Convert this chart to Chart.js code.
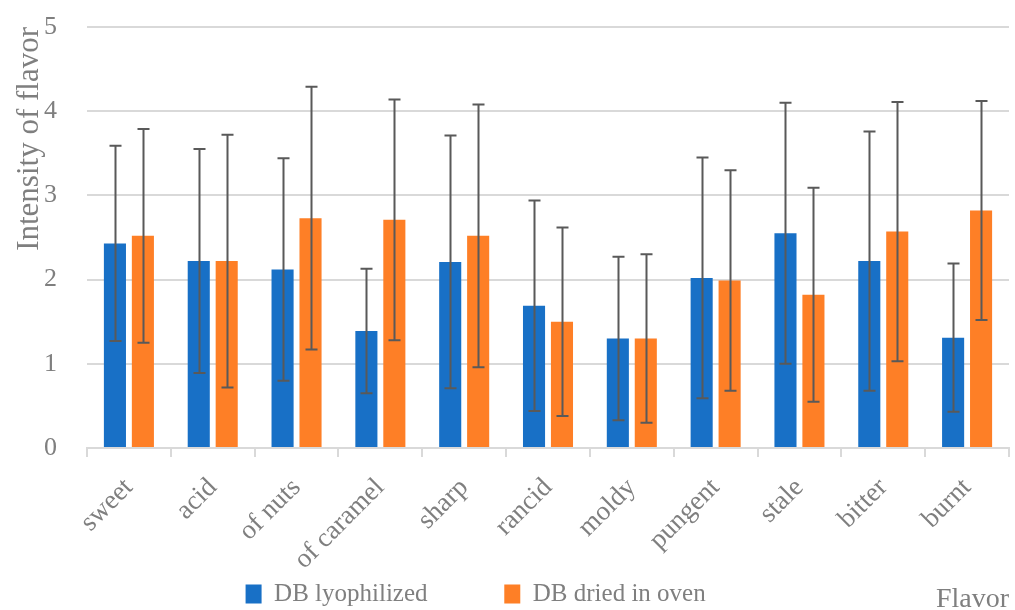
<!DOCTYPE html>
<html>
<head>
<meta charset="utf-8">
<script src="https://cdn.jsdelivr.net/npm/chart.js@4/dist/chart.umd.min.js"></script>
<style>
  html, body { margin: 0; padding: 0; background: #fff; }
</style>
</head>
<body>
<canvas id="flavorChart" width="1015" height="610"></canvas>
<script>
const flavors = ["sweet", "acid", "of nuts", "of caramel", "sharp", "rancid", "moldy", "pungent", "stale", "bitter", "burnt"];

const lyophilized   = [2.43, 2.22, 2.12, 1.39, 2.21, 1.69, 1.30, 2.02, 2.55, 2.22, 1.31];
const lyophilizedSd = [1.16, 1.33, 1.32, 0.74, 1.50, 1.25, 0.97, 1.43, 1.55, 1.54, 0.88];

const ovenDried   = [2.52, 2.22, 2.73, 2.71, 2.52, 1.50, 1.30, 1.99, 1.82, 2.57, 2.82];
const ovenDriedSd = [1.27, 1.50, 1.56, 1.43, 1.56, 1.12, 1.00, 1.31, 1.27, 1.54, 1.30];

const serif = "'Liberation Serif', 'DejaVu Serif', serif";
const gridColor = "#d9d9d9";
const textColor = "#7f7f7f";

// draws +/- sd whiskers on top of each bar, using the y scale
const errorBars = {
  id: "errorBars",
  afterDatasetsDraw(chart) {
    const ctx = chart.ctx;
    const y = chart.scales.y;
    ctx.save();
    ctx.strokeStyle = "#595959";
    ctx.lineWidth = 2;
    chart.data.datasets.forEach((ds, di) => {
      const meta = chart.getDatasetMeta(di);
      meta.data.forEach((bar, i) => {
        const top = y.getPixelForValue(ds.data[i] + ds.sd[i]);
        const bottom = y.getPixelForValue(ds.data[i] - ds.sd[i]);
        const x = Math.round(bar.x) + 0.5;
        ctx.beginPath();
        ctx.moveTo(x, top);
        ctx.lineTo(x, bottom);
        ctx.moveTo(x - 6, top);
        ctx.lineTo(x + 6, top);
        ctx.moveTo(x - 6, bottom);
        ctx.lineTo(x + 6, bottom);
        ctx.stroke();
      });
    });
    ctx.restore();
  }
};

const ctx = document.getElementById("flavorChart").getContext("2d");
new Chart(ctx, {
  type: "bar",
  data: {
    labels: flavors,
    datasets: [
      {
        label: "DB lyophilized",
        data: lyophilized,
        sd: lyophilizedSd,
        backgroundColor: "#1870c6",
        categoryPercentage: 0.667,
        barPercentage: 0.79
      },
      {
        label: "DB dried in oven",
        data: ovenDried,
        sd: ovenDriedSd,
        backgroundColor: "#fe7f26",
        categoryPercentage: 0.667,
        barPercentage: 0.79
      }
    ]
  },
  plugins: [errorBars],
  options: {
    responsive: false,
    animation: false,
    layout: { padding: { top: 27, left: 11, right: 6, bottom: -6.5 } },
    plugins: {
      tooltip: { enabled: false },
      legend: {
        position: "bottom",
        labels: {
          font: { family: serif, size: 25 },
          color: textColor,
          boxWidth: 16,
          boxHeight: 19,
          padding: 8,
          // extra trailing room so the two entries sit far apart like the original
          generateLabels(chart) {
            const items = Chart.defaults.plugins.legend.labels.generateLabels(chart);
            items.forEach((it) => { it.text = it.text + "           "; });
            return items;
          }
        }
      }
    },
    scales: {
      x: {
        afterFit(scale) { scale.height = 125.5; },
        grid: {
          display: true,
          drawOnChartArea: false,
          drawTicks: true,
          tickLength: 9,
          color: gridColor,
          lineWidth: 2
        },
        border: { color: gridColor, width: 2 },
        ticks: {
          font: { family: serif, size: 27 },
          color: textColor,
          minRotation: 45,
          maxRotation: 45,
          padding: 15
        },
        title: {
          display: true,
          text: "Flavor",
          align: "end",
          font: { family: serif, size: 28 },
          color: textColor,
          padding: { top: 0, bottom: -43 }
        }
      },
      y: {
        min: 0,
        max: 5,
        afterFit(scale) { scale.width = 76; },
        grid: {
          color: gridColor,
          lineWidth: 2,
          drawTicks: true,
          tickLength: 26,
          tickColor: "rgba(0,0,0,0)"
        },
        border: { display: false },
        ticks: {
          stepSize: 1,
          font: { family: serif, size: 26 },
          color: textColor,
          padding: 4
        },
        title: {
          display: true,
          text: "Intensity of flavor",
          align: "end",
          font: { family: serif, size: 31 },
          color: textColor,
          padding: { top: 0, bottom: 4 }
        }
      }
    }
  }
});
</script>
</body>
</html>
